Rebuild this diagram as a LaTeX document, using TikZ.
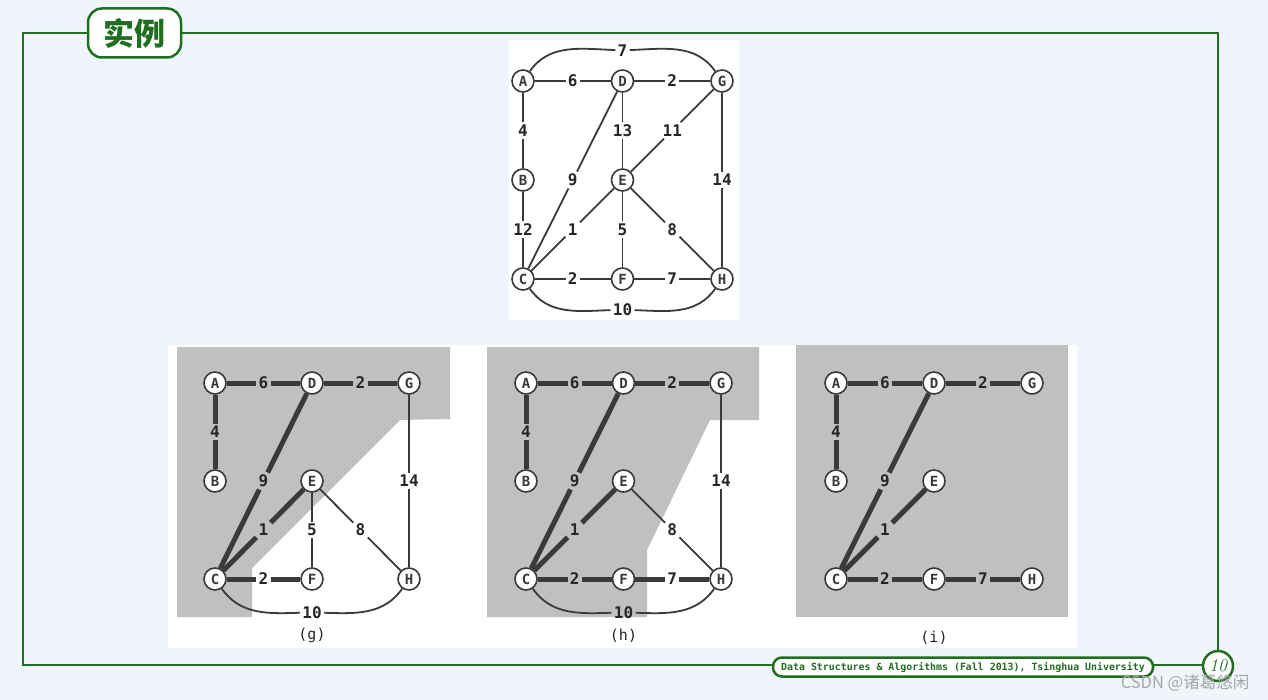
\documentclass[tikz,border=0pt]{standalone}
\usepackage{fontspec}
\newfontfamily\monofont{DejaVu Sans Mono}
\newfontfamily\cjkfont{Noto Sans CJK SC}
\definecolor{bgc}{RGB}{240,245,251}
\definecolor{grn}{RGB}{32,110,32}
\definecolor{edgec}{RGB}{58,58,58}
\definecolor{grayregion}{RGB}{192,192,192}
\tikzset{
  vtx/.style={circle, draw=edgec, line width=1.6pt, fill=white, minimum size=22pt, inner sep=0pt,
    font=\monofont\bfseries\fontsize{14}{14}\selectfont, text=edgec},
  wlab/.style={inner sep=2.2pt, font=\monofont\bfseries\fontsize{16}{16}\selectfont, text=black!85},
  thinedge/.style={draw=edgec, line width=1.8pt},
  thickedge/.style={draw=edgec, line width=5pt},
  caption/.style={font=\monofont\fontsize{15}{15}\selectfont, text=black!85}
}
\newcommand\placenodes[1]{%
  \node[vtx] (#1A) at (0,0) {A};
  \node[vtx] (#1D) at (1,0) {D};
  \node[vtx] (#1G) at (2,0) {G};
  \node[vtx] (#1B) at (0,1) {B};
  \node[vtx] (#1E) at (1,1) {E};
  \node[vtx] (#1C) at (0,2) {C};
  \node[vtx] (#1F) at (1,2) {F};
  \node[vtx] (#1H) at (2,2) {H};
}
\begin{document}
\begin{tikzpicture}[x=1pt,y=-1pt]
\useasboundingbox (0,0) rectangle (1268,700);
\fill[bgc] (0,0) rectangle (1268,700);
% frame
\draw[grn, line width=2.6pt] (23,33) rectangle (1218,665);
% title
\node[draw=grn, line width=2.5pt, fill=white, rounded corners=14pt, minimum width=93pt, minimum height=49pt,
  inner sep=0pt, font=\cjkfont\bfseries\fontsize{31}{31}\selectfont, text=grn] (title) at (134.5,33) {实例};
% footer
\node[draw=grn, line width=2.5pt, fill=white, rounded corners=9pt, minimum width=380pt, minimum height=19pt,
  inner sep=0pt, font=\monofont\bfseries\fontsize{9.9}{9.9}\selectfont, text=grn] (footer) at (963,667)
  {Data Structures \& Algorithms (Fall 2013), Tsinghua University};
\node[circle, draw=grn, line width=2.5pt, fill=white, minimum size=30pt, inner sep=0pt,
  font=\itshape\fontsize{18}{18}\selectfont, text=grn] (page) at (1218,666) {10};
\node[font=\cjkfont\fontsize{16.5}{16.5}\selectfont, text=black!35] (wm) at (1185,683) {CSDN @诸葛悠闲};

% ---------------- top graph ----------------
\fill[white] (509,40) rectangle (739,320);
\begin{scope}[shift={(523pt,-81pt)}, x=99.5pt, y=-99pt]
  \placenodes{t}
  \node[wlab] (t7) at (1,-0.31) {7};
  \node[wlab] (t6) at (0.5,0) {6};
  \node[wlab] (t2a) at (1.5,0) {2};
  \node[wlab] (t4) at (0,0.5) {4};
  \node[wlab] (t13) at (1,0.5) {13};
  \node[wlab] (t11) at (1.5,0.5) {11};
  \node[wlab] (t9) at (0.5,1) {9};
  \node[wlab] (t14) at (2,1) {14};
  \node[wlab] (t12) at (0,1.5) {12};
  \node[wlab] (t1) at (0.5,1.5) {1};
  \node[wlab] (t5) at (1,1.5) {5};
  \node[wlab] (t8) at (1.5,1.5) {8};
  \node[wlab] (t2b) at (0.5,2) {2};
  \node[wlab] (t7b) at (1.5,2) {7};
  \node[wlab] (t10) at (1,2.31) {10};
  \draw[thinedge] (tA) -- (t6) -- (tD);
  \draw[thinedge] (tD) -- (t2a) -- (tG);
  \draw[thinedge] (tA) to[out=55,in=178] (t7) to[out=2,in=125] (tG);
  \draw[thinedge] (tA) -- (t4) -- (tB);
  \draw[thinedge] (tD) -- (t13) -- (tE);
  \draw[thinedge] (tG) -- (t11) -- (tE);
  \draw[thinedge] (tD) -- (t9) -- (tC);
  \draw[thinedge] (tG) -- (t14) -- (tH);
  \draw[thinedge] (tB) -- (t12) -- (tC);
  \draw[thinedge] (tE) -- (t1) -- (tC);
  \draw[thinedge] (tE) -- (t5) -- (tF);
  \draw[thinedge] (tE) -- (t8) -- (tH);
  \draw[thinedge] (tC) -- (t2b) -- (tF);
  \draw[thinedge] (tF) -- (t7b) -- (tH);
  \draw[thinedge] (tC) to[out=-55,in=182] (t10) to[out=-2,in=-125] (tH);
\end{scope}

% ---------------- bottom panels ----------------
\fill[white] (168,345) rectangle (1077,648);
% gray regions
\fill[grayregion] (177,347) -- (450,347) -- (450,419) -- (400,420) -- (252,568) -- (252,617) -- (177,617) -- cycle;
\fill[grayregion] (487,347) -- (759,347) -- (759,420) -- (710,420) -- (647,550) -- (647,617) -- (487,617) -- cycle;
\fill[grayregion] (796,345) rectangle (1068,617);

% panel g
\begin{scope}[shift={(215pt,-383pt)}, x=97pt, y=-98pt]
  \placenodes{g}
  \node[wlab] (g6) at (0.5,0) {6};
  \node[wlab] (g2a) at (1.5,0) {2};
  \node[wlab] (g4) at (0,0.5) {4};
  \node[wlab] (g9) at (0.5,1) {9};
  \node[wlab] (g14) at (2,1) {14};
  \node[wlab] (g1) at (0.5,1.5) {1};
  \node[wlab] (g5) at (1,1.5) {5};
  \node[wlab] (g8) at (1.5,1.5) {8};
  \node[wlab] (g2b) at (0.5,2) {2};
  \node[wlab] (g10) at (1,2.34) {10};
  \node[caption] (gcap) at (1,2.58) {(g)};
  \draw[thickedge] (gA) -- (g6) -- (gD);
  \draw[thickedge] (gD) -- (g2a) -- (gG);
  \draw[thickedge] (gA) -- (g4) -- (gB);
  \draw[thickedge] (gD) -- (g9) -- (gC);
  \draw[thickedge] (gE) -- (g1) -- (gC);
  \draw[thickedge] (gC) -- (g2b) -- (gF);
  \draw[thinedge] (gG) -- (g14) -- (gH);
  \draw[thinedge] (gE) -- (g5) -- (gF);
  \draw[thinedge] (gE) -- (g8) -- (gH);
  \draw[thinedge] (gC) to[out=-55,in=182] (g10) to[out=-2,in=-125] (gH);
\end{scope}

% panel h
\begin{scope}[shift={(526pt,-383pt)}, x=97.5pt, y=-98pt]
  \placenodes{h}
  \node[wlab] (h6) at (0.5,0) {6};
  \node[wlab] (h2a) at (1.5,0) {2};
  \node[wlab] (h4) at (0,0.5) {4};
  \node[wlab] (h9) at (0.5,1) {9};
  \node[wlab] (h14) at (2,1) {14};
  \node[wlab] (h1) at (0.5,1.5) {1};
  \node[wlab] (h8) at (1.5,1.5) {8};
  \node[wlab] (h2b) at (0.5,2) {2};
  \node[wlab] (h7) at (1.5,2) {7};
  \node[wlab] (h10) at (1,2.34) {10};
  \node[caption] (hcap) at (1,2.58) {(h)};
  \draw[thickedge] (hA) -- (h6) -- (hD);
  \draw[thickedge] (hD) -- (h2a) -- (hG);
  \draw[thickedge] (hA) -- (h4) -- (hB);
  \draw[thickedge] (hD) -- (h9) -- (hC);
  \draw[thickedge] (hE) -- (h1) -- (hC);
  \draw[thickedge] (hC) -- (h2b) -- (hF);
  \draw[thickedge] (hF) -- (h7) -- (hH);
  \draw[thinedge] (hG) -- (h14) -- (hH);
  \draw[thinedge] (hE) -- (h8) -- (hH);
  \draw[thinedge] (hC) to[out=-55,in=182] (h10) to[out=-2,in=-125] (hH);
\end{scope}

% panel i
\begin{scope}[shift={(836pt,-383pt)}, x=98pt, y=-98pt]
  \placenodes{i}
  \node[wlab] (i6) at (0.5,0) {6};
  \node[wlab] (i2a) at (1.5,0) {2};
  \node[wlab] (i4) at (0,0.5) {4};
  \node[wlab] (i9) at (0.5,1) {9};
  \node[wlab] (i1) at (0.5,1.5) {1};
  \node[wlab] (i2b) at (0.5,2) {2};
  \node[wlab] (i7) at (1.5,2) {7};
  \node[caption] (icap) at (1,2.6) {(i)};
  \draw[thickedge] (iA) -- (i6) -- (iD);
  \draw[thickedge] (iD) -- (i2a) -- (iG);
  \draw[thickedge] (iA) -- (i4) -- (iB);
  \draw[thickedge] (iD) -- (i9) -- (iC);
  \draw[thickedge] (iE) -- (i1) -- (iC);
  \draw[thickedge] (iC) -- (i2b) -- (iF);
  \draw[thickedge] (iF) -- (i7) -- (iH);
\end{scope}
\end{tikzpicture}
\end{document}
